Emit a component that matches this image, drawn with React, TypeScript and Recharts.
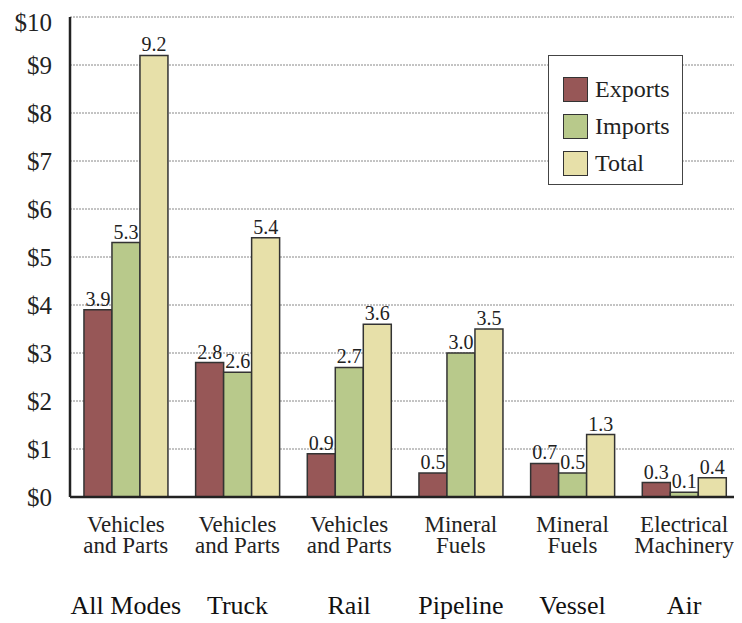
import React from 'react';
import { BarChart, Bar, XAxis, YAxis, CartesianGrid, LabelList } from 'recharts';

const modes = ['All Modes', 'Truck', 'Rail', 'Pipeline', 'Vessel', 'Air'];
const commodities = [
    ['Vehicles', 'and Parts'],
    ['Vehicles', 'and Parts'],
    ['Vehicles', 'and Parts'],
    ['Mineral', 'Fuels'],
    ['Mineral', 'Fuels'],
    ['Electrical', 'Machinery'],
];
const exportsVals = [3.9, 2.8, 0.9, 0.5, 0.7, 0.3];
const importsVals = [5.3, 2.6, 2.7, 3.0, 0.5, 0.1];
const totalVals = [9.2, 5.4, 3.6, 3.5, 1.3, 0.4];
const yTicks = [0, 1, 2, 3, 4, 5, 6, 7, 8, 9, 10];

const seriesInfo = [
    { key: 'exports', name: 'Exports', color: '#975757' },
    { key: 'imports', name: 'Imports', color: '#B8C98B' },
    { key: 'total', name: 'Total', color: '#E7E0A9' },
];

const chartData = modes.map((m, i) => ({
    mode: m,
    exports: exportsVals[i],
    imports: importsVals[i],
    total: totalVals[i],
}));

const FONT = '"Liberation Serif", "DejaVu Serif", serif';

const CategoryTick = (props: any) => {
    const { x, y, payload } = props;
    const i = modes.indexOf(payload.value);
    const lines = commodities[i] || [];
    return (
        <g transform={`translate(${x},${y})`}>
            <text x={0} y={27} textAnchor="middle" fontFamily={FONT} fontSize={23} fill="#222">
                {lines.map((t, k) => (
                    <tspan key={k} x={0} dy={k === 0 ? 0 : 21}>
                        {t}
                    </tspan>
                ))}
            </text>
            <text x={0} y={109} textAnchor="middle" fontFamily={FONT} fontSize={26} fill="#111">
                {payload.value}
            </text>
        </g>
    );
};

const ChartLegend = () => (
    <div
        style={{
            position: 'absolute',
            left: 540,
            top: 47,
            width: 135,
            height: 130,
            border: '1.5px solid #444',
            background: '#fff',
            boxSizing: 'border-box',
            paddingTop: 15,
            paddingLeft: 14,
            fontFamily: FONT,
        }}
    >
        {seriesInfo.map((s) => (
            <div key={s.key} style={{ display: 'flex', alignItems: 'center', height: 37 }}>
                <div style={{ width: 25, height: 25, background: s.color, border: '1.5px solid #333', boxSizing: 'border-box', marginRight: 7 }} />
                <span style={{ fontSize: 24, color: '#222' }}>{s.name}</span>
            </div>
        ))}
    </div>
);

const App: React.FC = () => {
    return (
        <div style={{ position: 'relative', width: 734, height: 615 }}>
            <BarChart
                width={734}
                height={615}
                data={chartData}
                margin={{ top: 9, right: 2, left: 0, bottom: 0 }}
                barCategoryGap="12.5%"
                barGap={0}
            >
                <CartesianGrid vertical={false} stroke="#888" strokeDasharray="2 1" />
                <XAxis
                    dataKey="mode"
                    height={126}
                    tickLine={false}
                    axisLine={{ stroke: '#222', strokeWidth: 2.5 }}
                    tick={<CategoryTick />}
                    interval={0}
                />
                <YAxis
                    width={62}
                    domain={[0, 10]}
                    ticks={yTicks}
                    tickLine={false}
                    tickMargin={12}
                    axisLine={{ stroke: '#222', strokeWidth: 2.5 }}
                    tickFormatter={(v: number) => `$${v}`}
                    tick={{ fontFamily: FONT, fontSize: 25, fill: '#222' }}
                />
                {seriesInfo.map((s) => (
                    <Bar key={s.key} dataKey={s.key} name={s.name} fill={s.color} stroke="#333" strokeWidth={1.5} isAnimationActive={false}>
                        <LabelList
                            dataKey={s.key}
                            position="top"
                            offset={4}
                            formatter={(v: number) => v.toFixed(1)}
                            style={{ fontFamily: FONT, fontSize: 20, fill: '#222' }}
                        />
                    </Bar>
                ))}
            </BarChart>
            <ChartLegend />
        </div>
    );
};

export default App;
